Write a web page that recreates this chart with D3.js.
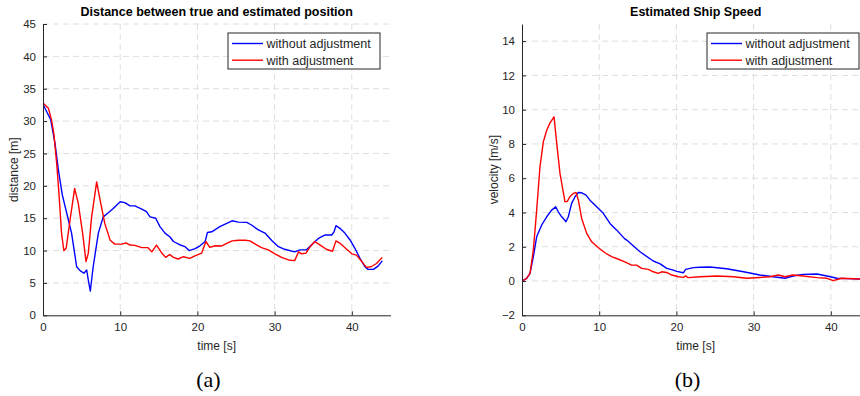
<!DOCTYPE html>
<html>
<head>
<meta charset="utf-8">
<script src="https://cdn.jsdelivr.net/npm/d3@7"></script>
<style>
  html, body { margin: 0; padding: 0; background: #fff; }
  svg { display: block; }
  text { font-family: "Liberation Sans", Arial, Helvetica, sans-serif; }
</style>
</head>
<body>
<svg id="chart" width="860" height="396"></svg>
<script>
// ---------- DATA ----------
const seriesNames = ["without adjustment", "with adjustment"];
const seriesColors = ["#0000ff", "#ff0000"];

// (a) Distance between true and estimated position
const distTimeWithout = [0, 1.0, 1.55, 2.0, 2.5, 3.07, 3.7, 4.36, 4.8, 5.3, 5.66, 5.87, 6.13, 6.5, 7.17, 7.8, 8.46, 9.1, 10.0, 10.6, 11.27, 11.9, 12.8, 13.4, 13.86, 14.6, 15.15, 15.8, 16.45, 16.9, 17.7, 18.4, 18.95, 19.7, 20.3, 21.0, 21.3, 21.85, 22.9, 23.8, 24.5, 25.3, 26.4, 27.0, 27.9, 28.75, 29.6, 30.5, 31.3, 32.6, 33.3, 34.1, 34.8, 35.7, 36.1, 36.5, 37.4, 37.7, 37.95, 38.5, 39.1, 39.8, 40.4, 41.06, 41.7, 42.1, 42.8, 43.4, 43.95];
const distWithout = [32.6, 30.2, 26.6, 22.4, 18.6, 15.8, 12.7, 7.5, 6.9, 6.5, 7.0, 5.45, 3.75, 7.5, 12.7, 15.2, 15.85, 16.5, 17.55, 17.4, 16.9, 16.9, 16.4, 16.0, 15.2, 15.0, 13.7, 12.7, 12.1, 11.4, 10.9, 10.6, 10.0, 10.3, 10.7, 11.4, 12.8, 12.9, 13.7, 14.2, 14.6, 14.4, 14.35, 13.95, 13.2, 12.7, 11.6, 10.6, 10.2, 9.8, 10.1, 10.1, 10.9, 11.9, 12.15, 12.4, 12.4, 12.9, 13.85, 13.4, 12.7, 11.6, 10.35, 8.8, 7.5, 7.1, 7.1, 7.6, 8.4];

const distTimeWith = [0, 0.7, 1.1, 1.4, 1.77, 2.07, 2.4, 2.7, 3.0, 3.5, 4.1, 4.57, 5.13, 5.57, 5.87, 6.3, 6.95, 7.4, 8.0, 8.7, 9.3, 10.2, 10.75, 11.27, 11.9, 12.8, 13.6, 14.1, 14.7, 15.4, 15.9, 16.4, 16.9, 17.5, 18.2, 19.0, 19.9, 20.55, 21.1, 21.6, 22.3, 23.1, 23.8, 24.5, 25.3, 26.2, 26.8, 27.5, 28.3, 29.2, 30.05, 30.9, 31.8, 32.6, 33.1, 33.5, 34.07, 34.6, 35.2, 35.9, 36.7, 37.5, 37.95, 38.5, 39.3, 40.0, 40.6, 41.3, 41.9, 42.5, 43.2, 43.95];
const distWith = [32.8, 32.0, 30.2, 28.1, 23.5, 18.8, 12.7, 10.0, 10.35, 14.7, 19.6, 17.3, 12.7, 8.3, 9.6, 15.2, 20.6, 17.8, 14.2, 11.6, 11.0, 11.0, 11.2, 10.85, 10.8, 10.45, 10.45, 9.8, 10.85, 9.6, 8.95, 9.4, 8.95, 8.7, 9.05, 8.8, 9.3, 9.6, 11.4, 10.5, 10.75, 10.7, 11.1, 11.5, 11.6, 11.6, 11.5, 11.0, 10.45, 10.1, 9.5, 8.95, 8.55, 8.45, 9.8, 9.5, 9.6, 10.6, 11.4, 10.85, 10.2, 9.9, 11.5, 11.1, 10.25, 9.5, 9.3, 8.3, 7.4, 7.5, 8.0, 8.95];

// (b) Estimated Ship Speed
const speedTimeWithout = [0, 0.6, 1.04, 1.47, 1.9, 2.55, 3.2, 3.84, 4.37, 4.7, 5.14, 5.7, 6.0, 6.43, 6.87, 7.3, 7.73, 8.3, 8.8, 9.67, 10.53, 11.4, 12.27, 13.25, 13.56, 15.28, 17.0, 17.9, 18.74, 19.6, 20.04, 20.9, 21.2, 22.2, 23.06, 24.35, 26.5, 28.7, 30.8, 32.55, 34.07, 35.1, 36.4, 38.2, 39.5, 40.8, 42.1, 43.8, 45.0];
const speedWithout = [0, 0.15, 0.45, 1.42, 2.58, 3.27, 3.75, 4.14, 4.33, 4.04, 3.75, 3.46, 3.75, 4.53, 4.92, 5.17, 5.15, 5.01, 4.72, 4.33, 3.95, 3.36, 2.97, 2.49, 2.39, 1.71, 1.17, 1.0, 0.74, 0.64, 0.56, 0.48, 0.68, 0.78, 0.8, 0.82, 0.72, 0.54, 0.35, 0.25, 0.16, 0.29, 0.39, 0.41, 0.29, 0.16, 0.14, 0.12, 0.12];

const speedTimeWith = [0, 0.6, 1.04, 1.47, 1.9, 2.33, 2.76, 3.2, 3.63, 4.15, 4.5, 4.92, 5.57, 5.87, 6.2, 6.65, 7.0, 7.3, 7.73, 8.38, 9.03, 9.9, 10.75, 11.6, 12.5, 13.25, 14.2, 14.85, 15.5, 16.36, 17.0, 17.66, 18.1, 18.74, 19.4, 20.25, 20.9, 21.2, 21.5, 23.06, 25.2, 27.4, 29.1, 30.8, 32.1, 33.2, 34.07, 35.1, 36.4, 38.2, 39.5, 40.3, 41.4, 43.8, 45.0];
const speedWith = [0, 0.15, 0.45, 1.8, 4.14, 6.67, 8.12, 8.8, 9.23, 9.58, 8.03, 6.28, 4.62, 4.65, 4.92, 5.11, 5.17, 4.72, 3.65, 2.78, 2.29, 1.94, 1.65, 1.42, 1.27, 1.13, 0.93, 0.93, 0.74, 0.68, 0.54, 0.45, 0.54, 0.5, 0.35, 0.25, 0.21, 0.3, 0.2, 0.25, 0.29, 0.25, 0.16, 0.21, 0.25, 0.35, 0.25, 0.35, 0.29, 0.2, 0.16, 0.02, 0.16, 0.12, 0.12];

const xTicks = [0, 10, 20, 30, 40];
const distYTicks = [0, 5, 10, 15, 20, 25, 30, 35, 40, 45];
const speedYTicks = [-2, 0, 2, 4, 6, 8, 10, 12, 14];

// ---------- DRAW ----------
const svg = d3.select("#chart");
const axisColor = "#262626";
const gridColor = "#dedede";

function panel(cfg) {
  const g = svg.append("g");
  const x = d3.scaleLinear().domain(cfg.xDomain).range([cfg.left, cfg.left + cfg.width]);
  const y = d3.scaleLinear().domain(cfg.yDomain).range([cfg.bottom, cfg.top]);
  const clipId = "clip-" + cfg.id;
  svg.append("clipPath").attr("id", clipId).append("rect")
    .attr("x", cfg.left).attr("y", cfg.top - 2)
    .attr("width", cfg.width).attr("height", cfg.bottom - cfg.top + 2);

  // grid
  const grid = g.append("g");
  grid.selectAll(".gx").data(xTicks.filter(d => d > cfg.xDomain[0])).enter().append("line")
    .attr("x1", d => x(d)).attr("x2", d => x(d))
    .attr("y1", cfg.top).attr("y2", cfg.bottom)
    .attr("stroke", gridColor).attr("stroke-width", 1).attr("stroke-dasharray", "6,4");
  grid.selectAll(".gy").data(cfg.yTicks.filter(d => d > cfg.yDomain[0])).enter().append("line")
    .attr("x1", cfg.left).attr("x2", cfg.left + cfg.width)
    .attr("y1", d => y(d)).attr("y2", d => y(d))
    .attr("stroke", gridColor).attr("stroke-width", 1).attr("stroke-dasharray", "6,4");

  // lines
  const line = d3.line().x(d => x(d[0])).y(d => y(d[1]));
  cfg.series.forEach((s, i) => {
    const pts = s.t.map((t, k) => [t, s.v[k]]);
    g.append("path").datum(pts)
      .attr("d", line)
      .attr("fill", "none")
      .attr("stroke", seriesColors[i])
      .attr("stroke-width", 1.4)
      .attr("stroke-linejoin", "round")
      .attr("clip-path", `url(#${clipId})`);
  });

  // axes
  const xAxis = d3.axisBottom(x).tickValues(xTicks).tickSize(-4).tickPadding(8).tickSizeOuter(0);
  const yAxis = d3.axisLeft(y).tickValues(cfg.yTicks).tickSize(-4).tickPadding(7).tickSizeOuter(0);
  const gx = g.append("g").attr("transform", `translate(0,${cfg.bottom})`).call(xAxis);
  const gy = g.append("g").attr("transform", `translate(${cfg.left},0)`).call(yAxis);
  [gx, gy].forEach(a => {
    a.select(".domain").attr("stroke", axisColor).attr("stroke-width", 1);
    a.selectAll(".tick line").attr("stroke", axisColor);
    a.selectAll(".tick text").attr("fill", axisColor)
      .style("font-family", '"Liberation Sans", Arial, sans-serif').style("font-size", "11.5px");
  });

  // title
  g.append("text").attr("x", cfg.left + cfg.width / 2).attr("y", 16)
    .attr("text-anchor", "middle").attr("font-weight", "bold").attr("font-size", "12.5px")
    .attr("fill", "#000").text(cfg.title);
  // x label
  g.append("text").attr("x", cfg.left + cfg.width / 2).attr("y", 350)
    .attr("text-anchor", "middle").attr("font-size", "12px").attr("fill", axisColor)
    .text("time [s]");
  // y label
  g.append("text")
    .attr("transform", `translate(${cfg.ylabelX},${(cfg.top + cfg.bottom) / 2}) rotate(-90)`)
    .attr("text-anchor", "middle").attr("font-size", "12px").attr("fill", axisColor)
    .text(cfg.ylabel);
  // caption
  g.append("text").attr("x", cfg.captionX).attr("y", 387)
    .attr("text-anchor", "middle").attr("font-size", "22px")
    .style("font-family", '"Liberation Serif", "DejaVu Serif", serif')
    .attr("fill", "#000").text(cfg.caption);

  // legend
  const lg = g.append("g").attr("transform", `translate(${cfg.legendX},33)`);
  lg.append("rect").attr("x", 0).attr("y", 0).attr("width", 152).attr("height", 36)
    .attr("fill", "#fff").attr("stroke", axisColor).attr("stroke-width", 1);
  seriesNames.forEach((n, i) => {
    const yy = 10.5 + i * 16.7;
    lg.append("line").attr("x1", 4).attr("x2", 35).attr("y1", yy).attr("y2", yy)
      .attr("stroke", seriesColors[i]).attr("stroke-width", 1.4);
    lg.append("text").attr("x", 38.5).attr("y", yy + 4.3)
      .attr("font-size", "12.5px").attr("fill", axisColor).text(n);
  });
}

panel({
  id: "a", left: 43, width: 347.4, top: 24, bottom: 315.3,
  xDomain: [0, 45], yDomain: [0, 45], yTicks: distYTicks,
  series: [{ t: distTimeWithout, v: distWithout }, { t: distTimeWith, v: distWith }],
  title: "Distance between true and estimated position",
  ylabel: "distance [m]", ylabelX: 18, caption: "(a)", captionX: 208.5, legendX: 228
});
panel({
  id: "b", left: 522, width: 347.4, top: 24, bottom: 315.3,
  xDomain: [0, 45], yDomain: [-2, 15], yTicks: speedYTicks,
  series: [{ t: speedTimeWithout, v: speedWithout }, { t: speedTimeWith, v: speedWith }],
  title: "Estimated Ship Speed",
  ylabel: "velocity [m/s]", ylabelX: 498, caption: "(b)", captionX: 687.5, legendX: 707
});
</script>
</body>
</html>
